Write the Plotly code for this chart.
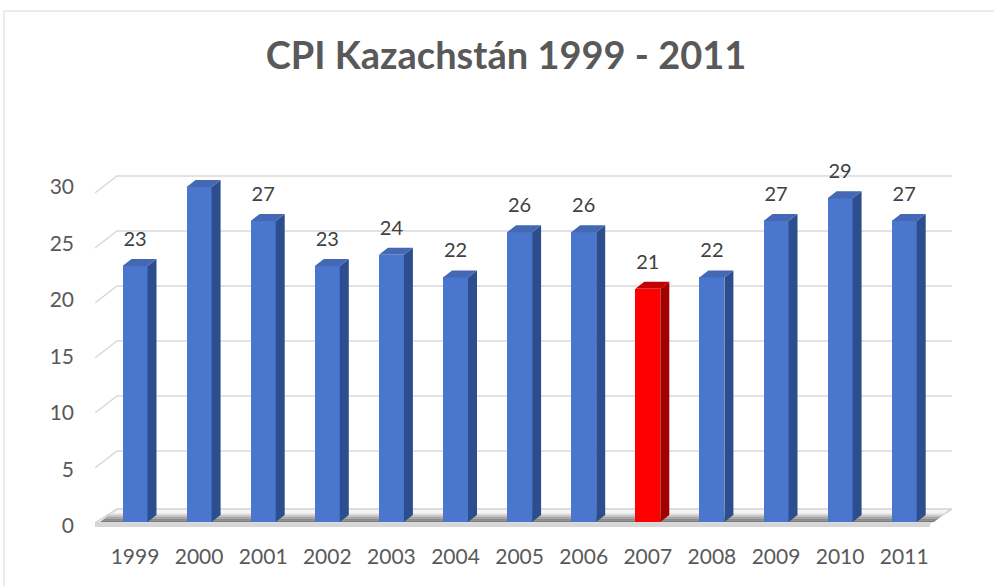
import plotly.graph_objects as go

# ---------------- data ----------------
years = ["1999", "2000", "2001", "2002", "2003", "2004", "2005",
         "2006", "2007", "2008", "2009", "2010", "2011"]
cpi = [23, 30, 27, 23, 24, 22, 26, 26, 21, 22, 27, 29, 27]
highlight_year = "2007"
y_ticks = [0, 5, 10, 15, 20, 25, 30]
title_text = "CPI Kazachstán 1999 - 2011"

# ---------------- geometry / style ----------------
W, H = 994, 586
PL, PR, PT, PB = 95, 952, 170, 530          # plot area in pixels
PX_X = 64.1                                  # pixels per category
PX_Y = 11.3                                  # pixels per value unit
X0 = -40 / PX_X
X1 = X0 + (PR - PL) / PX_X
Y0 = -(PB - 526) / PX_Y
Y1 = (526 - PT) / PX_Y


def px2x(px):
    return X0 + (px - PL) / PX_X


def px2y(py):
    return (526 - py) / PX_Y


def path(pts):
    return "M " + " L ".join(f"{px2x(a)},{px2y(b)}" for a, b in pts) + " Z"


BAR_W = 25 / PX_X
DEP_X = 9 / PX_X
DEP_Y = 7 / PX_Y
BASE = px2y(522)

FRONT_BLUE, SIDE_BLUE, TOP_BLUE = "#4b76cd", "#2d4e8e", "#4468b4"
FRONT_RED, SIDE_RED, TOP_RED = "#ff0000", "#a30000", "#c40000"
TXT = "#595959"
FONT = "Lato"

xs = list(range(len(years)))
is_hi = [y == highlight_year for y in years]

fig = go.Figure()
shapes = []

# gridlines on back wall, with left diagonal (below traces)
for v in y_ticks[1:]:
    front_py = 523 - 11.0 * v
    back_py = 506 - 11.0 * v
    shapes.append(dict(type="path", xref="x", yref="y", layer="below",
                       path=f"M {px2x(PL)},{px2y(front_py)} L {px2x(PL + 22)},{px2y(back_py)} "
                            f"L {px2x(PR)},{px2y(back_py)}",
                       line=dict(color="#d9d9d9", width=1.5)))

# floor surface
shapes.append(dict(type="path", xref="x", yref="y", layer="below",
                   path=path([(95, 523), (930, 523), (952, 509), (117, 509)]),
                   fillcolor="#f5f5f5", line=dict(color="#d4d4d4", width=1.5)))
# floor shadow (stacked bands for a soft gradient)
shadow_cols = ["#e6e6e6", "#c8c8c8", "#a6a6a6", "#8a8a8a", "#7a7a7a"]
for k, c in enumerate(shadow_cols):
    top = 513 + k * 1.8
    bot = top + 1.8
    shapes.append(dict(type="path", xref="x", yref="y", layer="below",
                       path=path([(100 + (522 - bot) * 1.3, bot), (934 + (522 - bot) * 1.3, bot),
                                  (934 + (522 - top) * 1.3, top), (100 + (522 - top) * 1.3, top)]),
                       fillcolor=c, line=dict(width=0)))
# floor front edge (thickness), above bars
shapes.append(dict(type="path", xref="x", yref="y", layer="above",
                   path=path([(95, 523), (930, 523), (930, 527), (95, 527)]),
                   fillcolor="#d6d6d6", line=dict(width=0)))

# bars: front faces
fig.add_trace(go.Bar(x=xs, y=[v - BASE for v in cpi], base=BASE, width=BAR_W,
                     marker=dict(color=[FRONT_RED if h else FRONT_BLUE for h in is_hi],
                                 line=dict(width=0)),
                     customdata=cpi, hovertemplate="%{x}: %{customdata}<extra></extra>",
                     showlegend=False))


def faces(sel):
    side_x, side_y, top_x, top_y = [], [], [], []
    for i, v, h in zip(xs, cpi, is_hi):
        if h != sel:
            continue
        r = i + BAR_W / 2
        l = i - BAR_W / 2
        side_x += [r, r + DEP_X, r + DEP_X, r, r, None]
        side_y += [BASE, BASE + DEP_Y, v + DEP_Y, v, BASE, None]
        top_x += [l, l + DEP_X, r + DEP_X, r, l, None]
        top_y += [v, v + DEP_Y, v + DEP_Y, v, v, None]
    return side_x, side_y, top_x, top_y


for sel, sc, tc in [(False, SIDE_BLUE, TOP_BLUE), (True, SIDE_RED, TOP_RED)]:
    sx_, sy_, tx_, ty_ = faces(sel)
    fig.add_trace(go.Scatter(x=sx_, y=sy_, mode="lines", fill="toself",
                             fillcolor=sc, line=dict(width=0),
                             hoverinfo="skip", showlegend=False))
    fig.add_trace(go.Scatter(x=tx_, y=ty_, mode="lines", fill="toself",
                             fillcolor=tc, line=dict(width=0),
                             hoverinfo="skip", showlegend=False))

# data labels
fig.add_trace(go.Scatter(x=xs, y=[v + 25 / PX_Y for v in cpi], mode="text",
                         text=[str(v) for v in cpi], textposition="middle center",
                         textfont=dict(family=FONT, size=20, color="#404040"),
                         hoverinfo="skip", showlegend=False, cliponaxis=False))

# chart border (top & left visible)
shapes.append(dict(type="line", xref="paper", yref="paper",
                   x0=(4 - PL) / (PR - PL), x1=(1000 - PL) / (PR - PL),
                   y0=(PB - 11) / (PB - PT), y1=(PB - 11) / (PB - PT),
                   line=dict(color="#d9d9d9", width=1)))
shapes.append(dict(type="line", xref="paper", yref="paper",
                   x0=(4 - PL) / (PR - PL), x1=(4 - PL) / (PR - PL),
                   y0=(PB - 11) / (PB - PT), y1=(PB - 600) / (PB - PT),
                   line=dict(color="#d9d9d9", width=1)))

fig.update_layout(
    width=W, height=H,
    margin=dict(l=PL, r=W - PR, t=PT, b=H - PB, autoexpand=False),
    paper_bgcolor="white", plot_bgcolor="white",
    shapes=shapes,
    title=dict(text="<b>" + title_text + "</b>", x=506 / W, xref="container",
               xanchor="center", y=1 - 56 / H, yref="container", yanchor="middle",
               font=dict(family=FONT, size=38, color=TXT)),
    xaxis=dict(range=[X0, X1], tickmode="array", tickvals=xs, ticktext=years,
               showgrid=False, zeroline=False, showline=False, ticks="",
               tickfont=dict(family=FONT, size=21, color=TXT),
               ticklabelstandoff=12, automargin=False, fixedrange=True),
    yaxis=dict(range=[Y0, Y1], tickmode="array", tickvals=y_ticks,
               ticktext=[str(t) for t in y_ticks],
               showgrid=False, zeroline=False, showline=False, ticks="",
               tickfont=dict(family=FONT, size=21, color=TXT),
               ticklabelstandoff=20, automargin=False, fixedrange=True),
    bargap=0,
)

fig.write_html("out.html", config={"displayModeBar": False},
               post_script="document.body.style.margin='0px';document.body.style.overflow='hidden';")
